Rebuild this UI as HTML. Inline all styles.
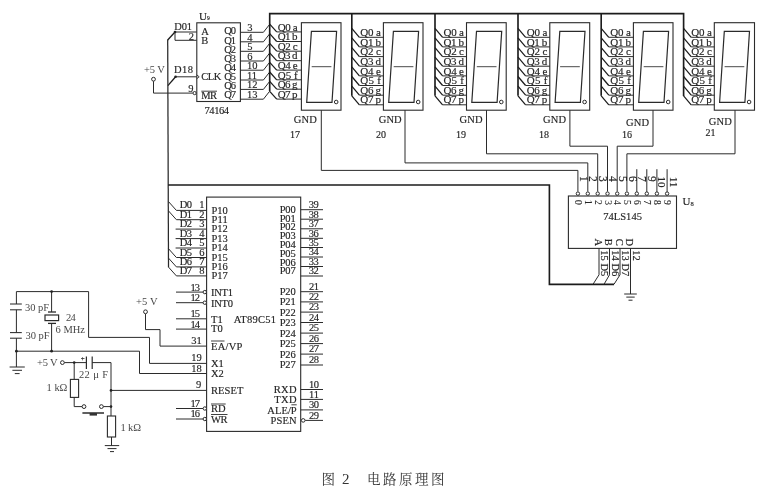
<!DOCTYPE html>
<html lang="zh"><head><meta charset="utf-8"><title>图 2 电路原理图</title>
<style>
html,body{margin:0;padding:0;background:#fff;}
body{width:766px;height:500px;overflow:hidden;}
svg{display:block;filter:blur(0.35px);}
svg text{font-family:"Liberation Serif","Noto Serif CJK SC",serif;fill:#262626;stroke:#262626;stroke-width:0.16;}
</style></head><body>
<svg width="766" height="500" viewBox="0 0 766 500">
<rect width="766" height="500" fill="#fff"/>
<rect x="196.8" y="22.8" width="43.6" height="78.7" fill="none" stroke="#2b2b2b" stroke-width="1.1"/>
<text x="199.0" y="19.7" font-size="11" >U<tspan font-size="5.5" dy="0.3">9</tspan></text>
<text x="174.2" y="30.2" font-size="10.5" textLength="17.8" >D01</text>
<text x="188.7" y="39.5" font-size="10.5" >2</text>
<text x="144.0" y="73.2" font-size="10.5" textLength="20.8" style="fill:#484848;stroke:none">+5 V</text>
<text x="174.0" y="73.2" font-size="10.5" textLength="19.0" >D18</text>
<text x="188.3" y="91.7" font-size="10.5" >9</text>
<text x="201.2" y="34.6" font-size="10.5" >A</text>
<text x="201.2" y="43.6" font-size="10.5" >B</text>
<text x="201.3" y="80.4" font-size="10.5" textLength="20.0" >CLK</text>
<text x="201.3" y="98.6" font-size="10.5" textLength="15.6" >MR</text>
<polyline points="201.3,91.2 217.0,91.2" fill="none" stroke="#2b2b2b" stroke-width="0.9" />
<text x="204.4" y="113.5" font-size="10.5" textLength="24.7" >74164</text>
<polyline points="175.0,32.0 196.7,32.0" fill="none" stroke="#2b2b2b" stroke-width="1.0" />
<polyline points="175.0,40.3 196.7,40.3" fill="none" stroke="#2b2b2b" stroke-width="1.0" />
<polyline points="175.0,32.0 175.0,40.3" fill="none" stroke="#2b2b2b" stroke-width="1.0" />
<polyline points="175.0,32.0 167.7,40.0" fill="none" stroke="#1c1c1c" stroke-width="1.3" />
<circle cx="175.0" cy="32.0" r="1.3" fill="#222"/>
<polyline points="175.6,76.8 196.7,76.8" fill="none" stroke="#2b2b2b" stroke-width="1.0" />
<polyline points="175.6,76.8 167.9,85.6" fill="none" stroke="#1c1c1c" stroke-width="1.3" />
<circle cx="175.6" cy="76.8" r="1.3" fill="#222"/>
<polyline points="196.7,74.8 199.2,76.8 196.7,78.8" fill="none" stroke="#2b2b2b" stroke-width="0.9" />
<polyline points="153.5,81.2 153.5,93.1 192.8,93.1" fill="none" stroke="#2b2b2b" stroke-width="1.0" />
<circle cx="153.5" cy="79.2" r="1.9" fill="#fff" stroke="#2b2b2b" stroke-width="1.0"/>
<circle cx="194.6" cy="93.1" r="1.6" fill="#fff" stroke="#2b2b2b" stroke-width="1.0"/>
<text x="224.3" y="34.4" font-size="10.5" textLength="11.7" >Q0</text>
<polyline points="240.4,32.3 263.4,32.3 269.7,24.3" fill="none" stroke="#2b2b2b" stroke-width="1.0" />
<text x="247.2" y="31.2" font-size="10.5" >3</text>
<text x="224.3" y="43.5" font-size="10.5" textLength="11.7" >Q1</text>
<polyline points="240.4,41.8 263.4,41.8 269.7,33.8" fill="none" stroke="#2b2b2b" stroke-width="1.0" />
<text x="247.2" y="40.7" font-size="10.5" >4</text>
<text x="224.3" y="52.5" font-size="10.5" textLength="11.7" >Q2</text>
<polyline points="240.4,51.3 263.4,51.3 269.7,43.3" fill="none" stroke="#2b2b2b" stroke-width="1.0" />
<text x="247.2" y="50.2" font-size="10.5" >5</text>
<text x="224.3" y="61.5" font-size="10.5" textLength="11.7" >Q3</text>
<polyline points="240.4,61.0 263.4,61.0 269.7,53.0" fill="none" stroke="#2b2b2b" stroke-width="1.0" />
<text x="247.2" y="59.9" font-size="10.5" >6</text>
<text x="224.3" y="70.6" font-size="10.5" textLength="11.7" >Q4</text>
<polyline points="240.4,70.2 263.4,70.2 269.7,62.2" fill="none" stroke="#2b2b2b" stroke-width="1.0" />
<text x="247.0" y="69.1" font-size="10.5" >10</text>
<text x="224.3" y="79.7" font-size="10.5" textLength="11.7" >Q5</text>
<polyline points="240.4,80.0 263.4,80.0 269.7,72.0" fill="none" stroke="#2b2b2b" stroke-width="1.0" />
<text x="247.0" y="78.9" font-size="10.5" >11</text>
<text x="224.3" y="88.7" font-size="10.5" textLength="11.7" >Q6</text>
<polyline points="240.4,89.4 263.4,89.4 269.7,81.4" fill="none" stroke="#2b2b2b" stroke-width="1.0" />
<text x="247.0" y="88.3" font-size="10.5" >12</text>
<text x="224.3" y="97.8" font-size="10.5" textLength="11.7" >Q7</text>
<polyline points="240.4,99.2 263.4,99.2 269.7,91.2" fill="none" stroke="#2b2b2b" stroke-width="1.0" />
<text x="247.0" y="98.1" font-size="10.5" >13</text>
<polyline points="269.7,91.0 269.7,13.6 683.6,13.6 683.6,96.0" fill="none" stroke="#1c1c1c" stroke-width="1.65" />
<polyline points="351.8,13.6 351.8,95.8" fill="none" stroke="#1c1c1c" stroke-width="1.65" />
<polyline points="435.0,13.6 435.0,95.8" fill="none" stroke="#1c1c1c" stroke-width="1.65" />
<polyline points="518.0,13.6 518.0,95.8" fill="none" stroke="#1c1c1c" stroke-width="1.65" />
<polyline points="601.2,13.6 601.2,95.8" fill="none" stroke="#1c1c1c" stroke-width="1.65" />
<polyline points="167.7,39.6 168.5,267.2" fill="none" stroke="#2a2a2a" stroke-width="1.25" />
<polyline points="168.1,185.0 549.4,185.0 549.4,284.3 614.0,284.3" fill="none" stroke="#1c1c1c" stroke-width="1.65" />
<rect x="301.4" y="22.7" width="39.6" height="87.5" fill="none" stroke="#2b2b2b" stroke-width="1.1"/>
<polygon points="311.4,31.4 336.6,31.4 332.0,102.4 306.7,102.4" fill="none" stroke="#2b2b2b" stroke-width="1.2"/>
<polyline points="311.7,66.7 331.4,66.7" fill="none" stroke="#4a4a4a" stroke-width="1.0" />
<circle cx="336.2" cy="102.0" r="1.8" fill="#fff" stroke="#2b2b2b" stroke-width="1.0"/>
<polyline points="269.7,24.1 276.7,31.9" fill="none" stroke="#1c1c1c" stroke-width="1.25" />
<polyline points="276.7,31.9 301.4,31.9" fill="none" stroke="#2b2b2b" stroke-width="1.0" />
<text x="277.8" y="30.6" font-size="11" textLength="19.8" >Q0 a</text>
<polyline points="269.7,33.7 276.7,41.5" fill="none" stroke="#1c1c1c" stroke-width="1.25" />
<polyline points="276.7,41.5 301.4,41.5" fill="none" stroke="#2b2b2b" stroke-width="1.0" />
<text x="277.8" y="40.2" font-size="11" textLength="19.8" >Q1 b</text>
<polyline points="269.7,43.4 276.7,51.2" fill="none" stroke="#1c1c1c" stroke-width="1.25" />
<polyline points="276.7,51.2 301.4,51.2" fill="none" stroke="#2b2b2b" stroke-width="1.0" />
<text x="277.8" y="49.9" font-size="11" textLength="19.8" >Q2 c</text>
<polyline points="269.7,52.9 276.7,60.7" fill="none" stroke="#1c1c1c" stroke-width="1.25" />
<polyline points="276.7,60.7 301.4,60.7" fill="none" stroke="#2b2b2b" stroke-width="1.0" />
<text x="277.8" y="59.4" font-size="11" textLength="19.8" >Q3 d</text>
<polyline points="269.7,62.3 276.7,70.1" fill="none" stroke="#1c1c1c" stroke-width="1.25" />
<polyline points="276.7,70.1 301.4,70.1" fill="none" stroke="#2b2b2b" stroke-width="1.0" />
<text x="277.8" y="68.8" font-size="11" textLength="19.8" >Q4 e</text>
<polyline points="269.7,72.0 276.7,79.8" fill="none" stroke="#1c1c1c" stroke-width="1.25" />
<polyline points="276.7,79.8 301.4,79.8" fill="none" stroke="#2b2b2b" stroke-width="1.0" />
<text x="277.8" y="78.5" font-size="11" textLength="19.8" >Q5 f</text>
<polyline points="269.7,81.4 276.7,89.2" fill="none" stroke="#1c1c1c" stroke-width="1.25" />
<polyline points="276.7,89.2 301.4,89.2" fill="none" stroke="#2b2b2b" stroke-width="1.0" />
<text x="277.8" y="87.9" font-size="11" textLength="19.8" >Q6 g</text>
<polyline points="269.7,91.3 276.7,99.1" fill="none" stroke="#1c1c1c" stroke-width="1.25" />
<polyline points="276.7,99.1 301.4,99.1" fill="none" stroke="#2b2b2b" stroke-width="1.0" />
<text x="277.8" y="97.8" font-size="11" textLength="19.8" >Q7 p</text>
<rect x="383.4" y="22.7" width="39.6" height="87.5" fill="none" stroke="#2b2b2b" stroke-width="1.1"/>
<polygon points="393.4,31.4 418.6,31.4 414.0,102.4 388.7,102.4" fill="none" stroke="#2b2b2b" stroke-width="1.2"/>
<polyline points="393.7,66.7 413.4,66.7" fill="none" stroke="#4a4a4a" stroke-width="1.0" />
<circle cx="418.2" cy="102.0" r="1.8" fill="#fff" stroke="#2b2b2b" stroke-width="1.0"/>
<polyline points="351.8,28.3 359.4,37.3" fill="none" stroke="#1c1c1c" stroke-width="1.25" />
<polyline points="359.4,37.3 383.4,37.3" fill="none" stroke="#2b2b2b" stroke-width="1.0" />
<text x="360.3" y="35.9" font-size="11" textLength="20.6" >Q0 a</text>
<polyline points="351.8,37.9 359.4,46.9" fill="none" stroke="#1c1c1c" stroke-width="1.25" />
<polyline points="359.4,46.9 383.4,46.9" fill="none" stroke="#2b2b2b" stroke-width="1.0" />
<text x="360.3" y="45.5" font-size="11" textLength="20.6" >Q1 b</text>
<polyline points="351.8,47.6 359.4,56.6" fill="none" stroke="#1c1c1c" stroke-width="1.25" />
<polyline points="359.4,56.6 383.4,56.6" fill="none" stroke="#2b2b2b" stroke-width="1.0" />
<text x="360.3" y="55.2" font-size="11" textLength="20.6" >Q2 c</text>
<polyline points="351.8,57.2 359.4,66.2" fill="none" stroke="#1c1c1c" stroke-width="1.25" />
<polyline points="359.4,66.2 383.4,66.2" fill="none" stroke="#2b2b2b" stroke-width="1.0" />
<text x="360.3" y="64.8" font-size="11" textLength="20.6" >Q3 d</text>
<polyline points="351.8,66.9 359.4,75.9" fill="none" stroke="#1c1c1c" stroke-width="1.25" />
<polyline points="359.4,75.9 383.4,75.9" fill="none" stroke="#2b2b2b" stroke-width="1.0" />
<text x="360.3" y="74.5" font-size="11" textLength="20.6" >Q4 e</text>
<polyline points="351.8,76.5 359.4,85.5" fill="none" stroke="#1c1c1c" stroke-width="1.25" />
<polyline points="359.4,85.5 383.4,85.5" fill="none" stroke="#2b2b2b" stroke-width="1.0" />
<text x="360.3" y="84.1" font-size="11" textLength="20.6" >Q5 f</text>
<polyline points="351.8,86.2 359.4,95.2" fill="none" stroke="#1c1c1c" stroke-width="1.25" />
<polyline points="359.4,95.2 383.4,95.2" fill="none" stroke="#2b2b2b" stroke-width="1.0" />
<text x="360.3" y="93.8" font-size="11" textLength="20.6" >Q6 g</text>
<polyline points="351.8,95.8 359.4,104.8" fill="none" stroke="#1c1c1c" stroke-width="1.25" />
<polyline points="359.4,104.8 383.4,104.8" fill="none" stroke="#2b2b2b" stroke-width="1.0" />
<text x="360.3" y="103.4" font-size="11" textLength="20.6" >Q7 p</text>
<rect x="466.5" y="22.7" width="39.7" height="87.5" fill="none" stroke="#2b2b2b" stroke-width="1.1"/>
<polygon points="476.5,31.4 501.7,31.4 497.1,102.4 471.8,102.4" fill="none" stroke="#2b2b2b" stroke-width="1.2"/>
<polyline points="476.8,66.7 496.5,66.7" fill="none" stroke="#4a4a4a" stroke-width="1.0" />
<circle cx="501.3" cy="102.0" r="1.8" fill="#fff" stroke="#2b2b2b" stroke-width="1.0"/>
<polyline points="435.0,28.3 442.6,37.3" fill="none" stroke="#1c1c1c" stroke-width="1.25" />
<polyline points="442.6,37.3 466.5,37.3" fill="none" stroke="#2b2b2b" stroke-width="1.0" />
<text x="443.4" y="35.9" font-size="11" textLength="20.6" >Q0 a</text>
<polyline points="435.0,37.9 442.6,46.9" fill="none" stroke="#1c1c1c" stroke-width="1.25" />
<polyline points="442.6,46.9 466.5,46.9" fill="none" stroke="#2b2b2b" stroke-width="1.0" />
<text x="443.4" y="45.5" font-size="11" textLength="20.6" >Q1 b</text>
<polyline points="435.0,47.6 442.6,56.6" fill="none" stroke="#1c1c1c" stroke-width="1.25" />
<polyline points="442.6,56.6 466.5,56.6" fill="none" stroke="#2b2b2b" stroke-width="1.0" />
<text x="443.4" y="55.2" font-size="11" textLength="20.6" >Q2 c</text>
<polyline points="435.0,57.2 442.6,66.2" fill="none" stroke="#1c1c1c" stroke-width="1.25" />
<polyline points="442.6,66.2 466.5,66.2" fill="none" stroke="#2b2b2b" stroke-width="1.0" />
<text x="443.4" y="64.8" font-size="11" textLength="20.6" >Q3 d</text>
<polyline points="435.0,66.9 442.6,75.9" fill="none" stroke="#1c1c1c" stroke-width="1.25" />
<polyline points="442.6,75.9 466.5,75.9" fill="none" stroke="#2b2b2b" stroke-width="1.0" />
<text x="443.4" y="74.5" font-size="11" textLength="20.6" >Q4 e</text>
<polyline points="435.0,76.5 442.6,85.5" fill="none" stroke="#1c1c1c" stroke-width="1.25" />
<polyline points="442.6,85.5 466.5,85.5" fill="none" stroke="#2b2b2b" stroke-width="1.0" />
<text x="443.4" y="84.1" font-size="11" textLength="20.6" >Q5 f</text>
<polyline points="435.0,86.2 442.6,95.2" fill="none" stroke="#1c1c1c" stroke-width="1.25" />
<polyline points="442.6,95.2 466.5,95.2" fill="none" stroke="#2b2b2b" stroke-width="1.0" />
<text x="443.4" y="93.8" font-size="11" textLength="20.6" >Q6 g</text>
<polyline points="435.0,95.8 442.6,104.8" fill="none" stroke="#1c1c1c" stroke-width="1.25" />
<polyline points="442.6,104.8 466.5,104.8" fill="none" stroke="#2b2b2b" stroke-width="1.0" />
<text x="443.4" y="103.4" font-size="11" textLength="20.6" >Q7 p</text>
<rect x="549.8" y="22.7" width="39.9" height="87.5" fill="none" stroke="#2b2b2b" stroke-width="1.1"/>
<polygon points="559.8,31.4 585.0,31.4 580.4,102.4 555.1,102.4" fill="none" stroke="#2b2b2b" stroke-width="1.2"/>
<polyline points="560.1,66.7 579.8,66.7" fill="none" stroke="#4a4a4a" stroke-width="1.0" />
<circle cx="584.6" cy="102.0" r="1.8" fill="#fff" stroke="#2b2b2b" stroke-width="1.0"/>
<polyline points="518.0,28.3 525.6,37.3" fill="none" stroke="#1c1c1c" stroke-width="1.25" />
<polyline points="525.6,37.3 549.8,37.3" fill="none" stroke="#2b2b2b" stroke-width="1.0" />
<text x="526.7" y="35.9" font-size="11" textLength="20.6" >Q0 a</text>
<polyline points="518.0,37.9 525.6,46.9" fill="none" stroke="#1c1c1c" stroke-width="1.25" />
<polyline points="525.6,46.9 549.8,46.9" fill="none" stroke="#2b2b2b" stroke-width="1.0" />
<text x="526.7" y="45.5" font-size="11" textLength="20.6" >Q1 b</text>
<polyline points="518.0,47.6 525.6,56.6" fill="none" stroke="#1c1c1c" stroke-width="1.25" />
<polyline points="525.6,56.6 549.8,56.6" fill="none" stroke="#2b2b2b" stroke-width="1.0" />
<text x="526.7" y="55.2" font-size="11" textLength="20.6" >Q2 c</text>
<polyline points="518.0,57.2 525.6,66.2" fill="none" stroke="#1c1c1c" stroke-width="1.25" />
<polyline points="525.6,66.2 549.8,66.2" fill="none" stroke="#2b2b2b" stroke-width="1.0" />
<text x="526.7" y="64.8" font-size="11" textLength="20.6" >Q3 d</text>
<polyline points="518.0,66.9 525.6,75.9" fill="none" stroke="#1c1c1c" stroke-width="1.25" />
<polyline points="525.6,75.9 549.8,75.9" fill="none" stroke="#2b2b2b" stroke-width="1.0" />
<text x="526.7" y="74.5" font-size="11" textLength="20.6" >Q4 e</text>
<polyline points="518.0,76.5 525.6,85.5" fill="none" stroke="#1c1c1c" stroke-width="1.25" />
<polyline points="525.6,85.5 549.8,85.5" fill="none" stroke="#2b2b2b" stroke-width="1.0" />
<text x="526.7" y="84.1" font-size="11" textLength="20.6" >Q5 f</text>
<polyline points="518.0,86.2 525.6,95.2" fill="none" stroke="#1c1c1c" stroke-width="1.25" />
<polyline points="525.6,95.2 549.8,95.2" fill="none" stroke="#2b2b2b" stroke-width="1.0" />
<text x="526.7" y="93.8" font-size="11" textLength="20.6" >Q6 g</text>
<polyline points="518.0,95.8 525.6,104.8" fill="none" stroke="#1c1c1c" stroke-width="1.25" />
<polyline points="525.6,104.8 549.8,104.8" fill="none" stroke="#2b2b2b" stroke-width="1.0" />
<text x="526.7" y="103.4" font-size="11" textLength="20.6" >Q7 p</text>
<rect x="633.4" y="22.7" width="39.6" height="87.5" fill="none" stroke="#2b2b2b" stroke-width="1.1"/>
<polygon points="643.4,31.4 668.6,31.4 664.0,102.4 638.7,102.4" fill="none" stroke="#2b2b2b" stroke-width="1.2"/>
<polyline points="643.7,66.7 663.4,66.7" fill="none" stroke="#4a4a4a" stroke-width="1.0" />
<circle cx="668.2" cy="102.0" r="1.8" fill="#fff" stroke="#2b2b2b" stroke-width="1.0"/>
<polyline points="601.2,28.3 608.8,37.3" fill="none" stroke="#1c1c1c" stroke-width="1.25" />
<polyline points="608.8,37.3 633.4,37.3" fill="none" stroke="#2b2b2b" stroke-width="1.0" />
<text x="610.3" y="35.9" font-size="11" textLength="20.6" >Q0 a</text>
<polyline points="601.2,37.9 608.8,46.9" fill="none" stroke="#1c1c1c" stroke-width="1.25" />
<polyline points="608.8,46.9 633.4,46.9" fill="none" stroke="#2b2b2b" stroke-width="1.0" />
<text x="610.3" y="45.5" font-size="11" textLength="20.6" >Q1 b</text>
<polyline points="601.2,47.6 608.8,56.6" fill="none" stroke="#1c1c1c" stroke-width="1.25" />
<polyline points="608.8,56.6 633.4,56.6" fill="none" stroke="#2b2b2b" stroke-width="1.0" />
<text x="610.3" y="55.2" font-size="11" textLength="20.6" >Q2 c</text>
<polyline points="601.2,57.2 608.8,66.2" fill="none" stroke="#1c1c1c" stroke-width="1.25" />
<polyline points="608.8,66.2 633.4,66.2" fill="none" stroke="#2b2b2b" stroke-width="1.0" />
<text x="610.3" y="64.8" font-size="11" textLength="20.6" >Q3 d</text>
<polyline points="601.2,66.9 608.8,75.9" fill="none" stroke="#1c1c1c" stroke-width="1.25" />
<polyline points="608.8,75.9 633.4,75.9" fill="none" stroke="#2b2b2b" stroke-width="1.0" />
<text x="610.3" y="74.5" font-size="11" textLength="20.6" >Q4 e</text>
<polyline points="601.2,76.5 608.8,85.5" fill="none" stroke="#1c1c1c" stroke-width="1.25" />
<polyline points="608.8,85.5 633.4,85.5" fill="none" stroke="#2b2b2b" stroke-width="1.0" />
<text x="610.3" y="84.1" font-size="11" textLength="20.6" >Q5 f</text>
<polyline points="601.2,86.2 608.8,95.2" fill="none" stroke="#1c1c1c" stroke-width="1.25" />
<polyline points="608.8,95.2 633.4,95.2" fill="none" stroke="#2b2b2b" stroke-width="1.0" />
<text x="610.3" y="93.8" font-size="11" textLength="20.6" >Q6 g</text>
<polyline points="601.2,95.8 608.8,104.8" fill="none" stroke="#1c1c1c" stroke-width="1.25" />
<polyline points="608.8,104.8 633.4,104.8" fill="none" stroke="#2b2b2b" stroke-width="1.0" />
<text x="610.3" y="103.4" font-size="11" textLength="20.6" >Q7 p</text>
<rect x="714.3" y="22.7" width="40.2" height="87.5" fill="none" stroke="#2b2b2b" stroke-width="1.1"/>
<polygon points="724.3,31.4 749.5,31.4 744.9,102.4 719.6,102.4" fill="none" stroke="#2b2b2b" stroke-width="1.2"/>
<polyline points="724.6,66.7 744.3,66.7" fill="none" stroke="#4a4a4a" stroke-width="1.0" />
<circle cx="749.1" cy="102.0" r="1.8" fill="#fff" stroke="#2b2b2b" stroke-width="1.0"/>
<polyline points="683.6,28.3 691.2,37.3" fill="none" stroke="#1c1c1c" stroke-width="1.25" />
<polyline points="691.2,37.3 714.3,37.3" fill="none" stroke="#2b2b2b" stroke-width="1.0" />
<text x="691.2" y="35.9" font-size="11" textLength="20.6" >Q0 a</text>
<polyline points="683.6,37.9 691.2,46.9" fill="none" stroke="#1c1c1c" stroke-width="1.25" />
<polyline points="691.2,46.9 714.3,46.9" fill="none" stroke="#2b2b2b" stroke-width="1.0" />
<text x="691.2" y="45.5" font-size="11" textLength="20.6" >Q1 b</text>
<polyline points="683.6,47.6 691.2,56.6" fill="none" stroke="#1c1c1c" stroke-width="1.25" />
<polyline points="691.2,56.6 714.3,56.6" fill="none" stroke="#2b2b2b" stroke-width="1.0" />
<text x="691.2" y="55.2" font-size="11" textLength="20.6" >Q2 c</text>
<polyline points="683.6,57.2 691.2,66.2" fill="none" stroke="#1c1c1c" stroke-width="1.25" />
<polyline points="691.2,66.2 714.3,66.2" fill="none" stroke="#2b2b2b" stroke-width="1.0" />
<text x="691.2" y="64.8" font-size="11" textLength="20.6" >Q3 d</text>
<polyline points="683.6,66.9 691.2,75.9" fill="none" stroke="#1c1c1c" stroke-width="1.25" />
<polyline points="691.2,75.9 714.3,75.9" fill="none" stroke="#2b2b2b" stroke-width="1.0" />
<text x="691.2" y="74.5" font-size="11" textLength="20.6" >Q4 e</text>
<polyline points="683.6,76.5 691.2,85.5" fill="none" stroke="#1c1c1c" stroke-width="1.25" />
<polyline points="691.2,85.5 714.3,85.5" fill="none" stroke="#2b2b2b" stroke-width="1.0" />
<text x="691.2" y="84.1" font-size="11" textLength="20.6" >Q5 f</text>
<polyline points="683.6,86.2 691.2,95.2" fill="none" stroke="#1c1c1c" stroke-width="1.25" />
<polyline points="691.2,95.2 714.3,95.2" fill="none" stroke="#2b2b2b" stroke-width="1.0" />
<text x="691.2" y="93.8" font-size="11" textLength="20.6" >Q6 g</text>
<polyline points="683.6,95.8 691.2,104.8" fill="none" stroke="#1c1c1c" stroke-width="1.25" />
<polyline points="691.2,104.8 714.3,104.8" fill="none" stroke="#2b2b2b" stroke-width="1.0" />
<text x="691.2" y="103.4" font-size="11" textLength="20.6" >Q7 p</text>
<polyline points="321.3,110.2 321.3,170.4 577.9,170.4 577.9,191.5" fill="none" stroke="#2b2b2b" stroke-width="1.0" />
<polyline points="405.0,110.2 405.0,162.9 587.8,162.9 587.8,191.5" fill="none" stroke="#2b2b2b" stroke-width="1.0" />
<polyline points="486.5,110.2 486.5,153.8 597.7,153.8 597.7,191.5" fill="none" stroke="#2b2b2b" stroke-width="1.0" />
<polyline points="569.9,110.2 569.9,146.2 607.5,146.2 607.5,191.5" fill="none" stroke="#2b2b2b" stroke-width="1.0" />
<polyline points="653.0,110.2 653.0,146.2 617.2,146.2 617.2,191.5" fill="none" stroke="#2b2b2b" stroke-width="1.0" />
<polyline points="735.0,110.2 735.0,153.8 626.9,153.8 626.9,191.5" fill="none" stroke="#2b2b2b" stroke-width="1.0" />
<text x="293.8" y="122.6" font-size="10.5" textLength="23.0" >GND</text>
<text x="290.0" y="137.6" font-size="10" >17</text>
<text x="378.7" y="123.0" font-size="10.5" textLength="23.0" >GND</text>
<text x="376.0" y="137.6" font-size="10" >20</text>
<text x="459.5" y="122.5" font-size="10.5" textLength="23.0" >GND</text>
<text x="456.0" y="137.8" font-size="10" >19</text>
<text x="543.0" y="122.6" font-size="10.5" textLength="23.0" >GND</text>
<text x="539.0" y="137.5" font-size="10" >18</text>
<text x="626.0" y="125.7" font-size="10.5" textLength="23.0" >GND</text>
<text x="622.0" y="137.5" font-size="10" >16</text>
<text x="708.8" y="125.0" font-size="10.5" textLength="23.0" >GND</text>
<text x="705.6" y="136.0" font-size="10" >21</text>
<rect x="568.4" y="196.0" width="108.1" height="52.4" fill="none" stroke="#2b2b2b" stroke-width="1.1"/>
<circle cx="577.9" cy="193.6" r="1.7" fill="#fff" stroke="#2b2b2b" stroke-width="1.0"/>
<text x="574.9" y="202.5" font-size="9.5" transform="rotate(90 574.9 202.5)" text-anchor="middle" style="stroke-width:0.08">0</text>
<circle cx="587.8" cy="193.6" r="1.7" fill="#fff" stroke="#2b2b2b" stroke-width="1.0"/>
<text x="584.8" y="202.5" font-size="9.5" transform="rotate(90 584.8 202.5)" text-anchor="middle" style="stroke-width:0.08">1</text>
<circle cx="597.7" cy="193.6" r="1.7" fill="#fff" stroke="#2b2b2b" stroke-width="1.0"/>
<text x="594.7" y="202.5" font-size="9.5" transform="rotate(90 594.7 202.5)" text-anchor="middle" style="stroke-width:0.08">2</text>
<circle cx="607.5" cy="193.6" r="1.7" fill="#fff" stroke="#2b2b2b" stroke-width="1.0"/>
<text x="604.5" y="202.5" font-size="9.5" transform="rotate(90 604.5 202.5)" text-anchor="middle" style="stroke-width:0.08">3</text>
<circle cx="617.2" cy="193.6" r="1.7" fill="#fff" stroke="#2b2b2b" stroke-width="1.0"/>
<text x="614.2" y="202.5" font-size="9.5" transform="rotate(90 614.2 202.5)" text-anchor="middle" style="stroke-width:0.08">4</text>
<circle cx="626.9" cy="193.6" r="1.7" fill="#fff" stroke="#2b2b2b" stroke-width="1.0"/>
<text x="623.9" y="202.5" font-size="9.5" transform="rotate(90 623.9 202.5)" text-anchor="middle" style="stroke-width:0.08">5</text>
<circle cx="636.8" cy="193.6" r="1.7" fill="#fff" stroke="#2b2b2b" stroke-width="1.0"/>
<polyline points="636.8,169.2 636.8,191.9" fill="none" stroke="#2b2b2b" stroke-width="1.0" />
<text x="633.8" y="202.5" font-size="9.5" transform="rotate(90 633.8 202.5)" text-anchor="middle" style="stroke-width:0.08">6</text>
<circle cx="646.8" cy="193.6" r="1.7" fill="#fff" stroke="#2b2b2b" stroke-width="1.0"/>
<polyline points="646.8,169.2 646.8,191.9" fill="none" stroke="#2b2b2b" stroke-width="1.0" />
<text x="643.8" y="202.5" font-size="9.5" transform="rotate(90 643.8 202.5)" text-anchor="middle" style="stroke-width:0.08">7</text>
<circle cx="656.9" cy="193.6" r="1.7" fill="#fff" stroke="#2b2b2b" stroke-width="1.0"/>
<polyline points="656.9,169.2 656.9,191.9" fill="none" stroke="#2b2b2b" stroke-width="1.0" />
<text x="653.9" y="202.5" font-size="9.5" transform="rotate(90 653.9 202.5)" text-anchor="middle" style="stroke-width:0.08">8</text>
<circle cx="667.1" cy="193.6" r="1.7" fill="#fff" stroke="#2b2b2b" stroke-width="1.0"/>
<polyline points="667.1,169.2 667.1,191.9" fill="none" stroke="#2b2b2b" stroke-width="1.0" />
<text x="664.1" y="202.5" font-size="9.5" transform="rotate(90 664.1 202.5)" text-anchor="middle" style="stroke-width:0.08">9</text>
<text x="579.5" y="178.8" font-size="11.5" transform="rotate(90 579.5 178.8)" text-anchor="middle" >1</text>
<text x="589.4" y="178.8" font-size="11.5" transform="rotate(90 589.4 178.8)" text-anchor="middle" >2</text>
<text x="599.3" y="178.8" font-size="11.5" transform="rotate(90 599.3 178.8)" text-anchor="middle" >3</text>
<text x="609.1" y="178.8" font-size="11.5" transform="rotate(90 609.1 178.8)" text-anchor="middle" >4</text>
<text x="618.8" y="178.8" font-size="11.5" transform="rotate(90 618.8 178.8)" text-anchor="middle" >5</text>
<text x="628.5" y="178.8" font-size="11.5" transform="rotate(90 628.5 178.8)" text-anchor="middle" >6</text>
<text x="638.4" y="178.8" font-size="11.5" transform="rotate(90 638.4 178.8)" text-anchor="middle" >7</text>
<text x="648.4" y="178.8" font-size="11.5" transform="rotate(90 648.4 178.8)" text-anchor="middle" >9</text>
<text x="658.4" y="182.0" font-size="11" transform="rotate(90 658.4 182.0)" text-anchor="middle" >10</text>
<text x="669.5" y="182.0" font-size="11" transform="rotate(90 669.5 182.0)" text-anchor="middle" >11</text>
<text x="603.3" y="219.8" font-size="10.5" textLength="38.6" >74LS145</text>
<text x="682.5" y="204.8" font-size="11" >U<tspan font-size="6.5" dy="1.5">8</tspan></text>
<text x="594.8" y="242.2" font-size="10.5" transform="rotate(90 594.8 242.2)" text-anchor="middle" >A</text>
<text x="605.3" y="242.2" font-size="10.5" transform="rotate(90 605.3 242.2)" text-anchor="middle" >B</text>
<text x="615.8" y="242.2" font-size="10.5" transform="rotate(90 615.8 242.2)" text-anchor="middle" >C</text>
<text x="626.3" y="242.2" font-size="10.5" transform="rotate(90 626.3 242.2)" text-anchor="middle" >D</text>
<polyline points="599.0,248.4 599.0,274.8 593.0,284.3" fill="none" stroke="#2b2b2b" stroke-width="1.0" />
<polyline points="609.5,248.4 609.5,274.8 604.0,284.3" fill="none" stroke="#2b2b2b" stroke-width="1.0" />
<polyline points="620.0,248.4 620.0,274.8 614.0,284.3" fill="none" stroke="#2b2b2b" stroke-width="1.0" />
<polyline points="630.5,248.4 630.5,294.0" fill="none" stroke="#2b2b2b" stroke-width="1.0" />
<polyline points="624.2,294.0 636.8,294.0" fill="none" stroke="#2b2b2b" stroke-width="1.0" />
<polyline points="626.3,297.1 634.7,297.1" fill="none" stroke="#2b2b2b" stroke-width="1.0" />
<polyline points="628.5,300.2 632.5,300.2" fill="none" stroke="#2b2b2b" stroke-width="1.0" />
<text x="601.2" y="250.3" font-size="10.5" transform="rotate(90 601.2 250.3)" >15 D5</text>
<text x="611.7" y="250.3" font-size="10.5" transform="rotate(90 611.7 250.3)" >14 D6</text>
<text x="622.2" y="250.3" font-size="10.5" transform="rotate(90 622.2 250.3)" >13 D7</text>
<text x="632.7" y="250.3" font-size="10.5" transform="rotate(90 632.7 250.3)" >12</text>
<rect x="206.6" y="197.1" width="94.1" height="234.3" fill="none" stroke="#2b2b2b" stroke-width="1.1"/>
<polyline points="168.5,201.6 176.4,210.4 206.5,210.4" fill="none" stroke="#2b2b2b" stroke-width="1.0" />
<text x="179.7" y="208.4" font-size="10.5" textLength="12.3" >D0</text>
<text x="199.2" y="208.4" font-size="10.5" >1</text>
<text x="211.4" y="213.6" font-size="10.5" textLength="16.4" >P10</text>
<polyline points="168.5,210.9 176.4,219.7 206.5,219.7" fill="none" stroke="#2b2b2b" stroke-width="1.0" />
<text x="179.7" y="217.7" font-size="10.5" textLength="12.3" >D1</text>
<text x="199.2" y="217.7" font-size="10.5" >2</text>
<text x="211.4" y="223.0" font-size="10.5" textLength="16.4" >P11</text>
<polyline points="175.6,229.1 206.5,229.1" fill="none" stroke="#2b2b2b" stroke-width="1.0" />
<text x="179.7" y="227.1" font-size="10.5" textLength="12.3" >D2</text>
<text x="199.2" y="227.1" font-size="10.5" >3</text>
<text x="211.4" y="232.4" font-size="10.5" textLength="16.4" >P12</text>
<polyline points="175.6,238.6 206.5,238.6" fill="none" stroke="#2b2b2b" stroke-width="1.0" />
<text x="179.7" y="236.6" font-size="10.5" textLength="12.3" >D3</text>
<text x="199.2" y="236.6" font-size="10.5" >4</text>
<text x="211.4" y="241.8" font-size="10.5" textLength="16.4" >P13</text>
<polyline points="175.6,248.0 206.5,248.0" fill="none" stroke="#2b2b2b" stroke-width="1.0" />
<text x="179.7" y="246.0" font-size="10.5" textLength="12.3" >D4</text>
<text x="199.2" y="246.0" font-size="10.5" >5</text>
<text x="211.4" y="251.2" font-size="10.5" textLength="16.4" >P14</text>
<polyline points="168.5,248.7 176.4,257.5 206.5,257.5" fill="none" stroke="#2b2b2b" stroke-width="1.0" />
<text x="179.7" y="255.5" font-size="10.5" textLength="12.3" >D5</text>
<text x="199.2" y="255.5" font-size="10.5" >6</text>
<text x="211.4" y="260.6" font-size="10.5" textLength="16.4" >P15</text>
<polyline points="168.5,258.1 176.4,266.9 206.5,266.9" fill="none" stroke="#2b2b2b" stroke-width="1.0" />
<text x="179.7" y="264.9" font-size="10.5" textLength="12.3" >D6</text>
<text x="199.2" y="264.9" font-size="10.5" >7</text>
<text x="211.4" y="270.0" font-size="10.5" textLength="16.4" >P16</text>
<polyline points="168.5,267.1 176.4,275.9 206.5,275.9" fill="none" stroke="#2b2b2b" stroke-width="1.0" />
<text x="179.7" y="273.9" font-size="10.5" textLength="12.3" >D7</text>
<text x="199.2" y="273.9" font-size="10.5" >8</text>
<text x="211.4" y="279.4" font-size="10.5" textLength="16.4" >P17</text>
<polyline points="300.7,209.7 323.0,209.7" fill="none" stroke="#2b2b2b" stroke-width="1.0" />
<text x="308.8" y="208.1" font-size="10.5" textLength="10.0" >39</text>
<text x="279.7" y="212.7" font-size="10.5" textLength="16.0" >P00</text>
<polyline points="300.7,219.2 323.0,219.2" fill="none" stroke="#2b2b2b" stroke-width="1.0" />
<text x="308.8" y="217.6" font-size="10.5" textLength="10.0" >38</text>
<text x="279.7" y="221.5" font-size="10.5" textLength="16.0" >P01</text>
<polyline points="300.7,228.8 323.0,228.8" fill="none" stroke="#2b2b2b" stroke-width="1.0" />
<text x="308.8" y="227.2" font-size="10.5" textLength="10.0" >37</text>
<text x="279.7" y="230.3" font-size="10.5" textLength="16.0" >P02</text>
<polyline points="300.7,238.3 323.0,238.3" fill="none" stroke="#2b2b2b" stroke-width="1.0" />
<text x="308.8" y="236.7" font-size="10.5" textLength="10.0" >36</text>
<text x="279.7" y="239.1" font-size="10.5" textLength="16.0" >P03</text>
<polyline points="300.7,247.5 323.0,247.5" fill="none" stroke="#2b2b2b" stroke-width="1.0" />
<text x="308.8" y="245.9" font-size="10.5" textLength="10.0" >35</text>
<text x="279.7" y="247.9" font-size="10.5" textLength="16.0" >P04</text>
<polyline points="300.7,257.0 323.0,257.0" fill="none" stroke="#2b2b2b" stroke-width="1.0" />
<text x="308.8" y="255.4" font-size="10.5" textLength="10.0" >34</text>
<text x="279.7" y="256.7" font-size="10.5" textLength="16.0" >P05</text>
<polyline points="300.7,266.5 323.0,266.5" fill="none" stroke="#2b2b2b" stroke-width="1.0" />
<text x="308.8" y="264.9" font-size="10.5" textLength="10.0" >33</text>
<text x="279.7" y="265.5" font-size="10.5" textLength="16.0" >P06</text>
<polyline points="300.7,276.0 323.0,276.0" fill="none" stroke="#2b2b2b" stroke-width="1.0" />
<text x="308.8" y="274.4" font-size="10.5" textLength="10.0" >32</text>
<text x="279.7" y="274.3" font-size="10.5" textLength="16.0" >P07</text>
<polyline points="176.0,292.1 203.3,292.1" fill="none" stroke="#2b2b2b" stroke-width="1.0" />
<circle cx="204.8" cy="292.1" r="1.7" fill="#fff" stroke="#2b2b2b" stroke-width="1.0"/>
<text x="190.4" y="290.5" font-size="10.5" textLength="9.6" >13</text>
<polyline points="176.0,302.7 203.3,302.7" fill="none" stroke="#2b2b2b" stroke-width="1.0" />
<circle cx="204.8" cy="302.7" r="1.7" fill="#fff" stroke="#2b2b2b" stroke-width="1.0"/>
<text x="190.4" y="301.1" font-size="10.5" textLength="9.6" >12</text>
<polyline points="176.0,318.8 206.5,318.8" fill="none" stroke="#2b2b2b" stroke-width="1.0" />
<text x="190.4" y="317.2" font-size="10.5" textLength="9.6" >15</text>
<polyline points="176.0,329.1 206.5,329.1" fill="none" stroke="#2b2b2b" stroke-width="1.0" />
<text x="190.4" y="327.5" font-size="10.5" textLength="9.6" >14</text>
<polyline points="176.0,408.5 203.3,408.5" fill="none" stroke="#2b2b2b" stroke-width="1.0" />
<circle cx="204.8" cy="408.5" r="1.7" fill="#fff" stroke="#2b2b2b" stroke-width="1.0"/>
<text x="190.4" y="406.9" font-size="10.5" textLength="9.6" >17</text>
<polyline points="176.0,419.0 203.3,419.0" fill="none" stroke="#2b2b2b" stroke-width="1.0" />
<circle cx="204.8" cy="419.0" r="1.7" fill="#fff" stroke="#2b2b2b" stroke-width="1.0"/>
<text x="190.4" y="417.4" font-size="10.5" textLength="9.6" >16</text>
<text x="191.2" y="344.4" font-size="10.5" >31</text>
<text x="191.2" y="361.3" font-size="10.5" >19</text>
<text x="191.2" y="371.6" font-size="10.5" >18</text>
<text x="196.0" y="388.2" font-size="10.5" >9</text>
<text x="211.0" y="295.8" font-size="10.5" textLength="21.9" >INT1</text>
<text x="211.0" y="306.6" font-size="10.5" textLength="21.9" >INT0</text>
<text x="211.0" y="322.5" font-size="10.5" >T1</text>
<text x="211.0" y="332.1" font-size="10.5" >T0</text>
<text x="233.7" y="323.0" font-size="10.5" textLength="42.3" >AT89C51</text>
<text x="211.0" y="350.2" font-size="10.5" textLength="31.3" >EA/VP</text>
<polyline points="211.0,341.0 224.5,341.0" fill="none" stroke="#2b2b2b" stroke-width="0.9" />
<text x="211.0" y="367.0" font-size="10.5" >X1</text>
<text x="211.0" y="376.7" font-size="10.5" >X2</text>
<text x="211.0" y="394.2" font-size="10.5" textLength="32.3" >RESET</text>
<text x="211.0" y="412.1" font-size="10.5" textLength="14.7" >RD</text>
<polyline points="211.0,404.0 225.7,404.0" fill="none" stroke="#2b2b2b" stroke-width="0.9" />
<text x="211.0" y="422.5" font-size="10.5" textLength="16.5" >WR</text>
<polyline points="211.0,414.5 227.5,414.5" fill="none" stroke="#2b2b2b" stroke-width="0.9" />
<polyline points="300.7,291.7 323.0,291.7" fill="none" stroke="#2b2b2b" stroke-width="1.0" />
<text x="308.9" y="289.9" font-size="10.5" textLength="10.0" >21</text>
<text x="279.7" y="295.4" font-size="10.5" textLength="16.0" >P20</text>
<polyline points="300.7,301.9 323.0,301.9" fill="none" stroke="#2b2b2b" stroke-width="1.0" />
<text x="308.9" y="300.1" font-size="10.5" textLength="10.0" >22</text>
<text x="279.7" y="305.2" font-size="10.5" textLength="16.0" >P21</text>
<polyline points="300.7,312.1 323.0,312.1" fill="none" stroke="#2b2b2b" stroke-width="1.0" />
<text x="308.9" y="310.3" font-size="10.5" textLength="10.0" >23</text>
<text x="279.7" y="315.6" font-size="10.5" textLength="16.0" >P22</text>
<polyline points="300.7,322.5 323.0,322.5" fill="none" stroke="#2b2b2b" stroke-width="1.0" />
<text x="308.9" y="320.7" font-size="10.5" textLength="10.0" >24</text>
<text x="279.7" y="326.1" font-size="10.5" textLength="16.0" >P23</text>
<polyline points="300.7,333.1 323.0,333.1" fill="none" stroke="#2b2b2b" stroke-width="1.0" />
<text x="308.9" y="331.3" font-size="10.5" textLength="10.0" >25</text>
<text x="279.7" y="336.7" font-size="10.5" textLength="16.0" >P24</text>
<polyline points="300.7,343.6 323.0,343.6" fill="none" stroke="#2b2b2b" stroke-width="1.0" />
<text x="308.9" y="341.8" font-size="10.5" textLength="10.0" >26</text>
<text x="279.7" y="347.3" font-size="10.5" textLength="16.0" >P25</text>
<polyline points="300.7,354.1 323.0,354.1" fill="none" stroke="#2b2b2b" stroke-width="1.0" />
<text x="308.9" y="352.3" font-size="10.5" textLength="10.0" >27</text>
<text x="279.7" y="357.9" font-size="10.5" textLength="16.0" >P26</text>
<polyline points="300.7,365.0 323.0,365.0" fill="none" stroke="#2b2b2b" stroke-width="1.0" />
<text x="308.9" y="363.2" font-size="10.5" textLength="10.0" >28</text>
<text x="279.7" y="368.3" font-size="10.5" textLength="16.0" >P27</text>
<polyline points="300.7,389.5 323.0,389.5" fill="none" stroke="#2b2b2b" stroke-width="1.0" />
<text x="308.9" y="387.7" font-size="10.5" textLength="10.0" >10</text>
<text x="273.7" y="393.0" font-size="10.5" textLength="23.0" >RXD</text>
<polyline points="300.7,399.4 323.0,399.4" fill="none" stroke="#2b2b2b" stroke-width="1.0" />
<text x="308.9" y="397.6" font-size="10.5" textLength="10.0" >11</text>
<text x="274.3" y="403.0" font-size="10.5" textLength="22.4" >TXD</text>
<polyline points="300.7,409.9 323.0,409.9" fill="none" stroke="#2b2b2b" stroke-width="1.0" />
<text x="308.9" y="408.1" font-size="10.5" textLength="10.0" >30</text>
<text x="267.3" y="413.7" font-size="10.5" textLength="29.4" >ALE/P</text>
<polyline points="291.4,404.8 296.7,404.8" fill="none" stroke="#2b2b2b" stroke-width="0.9" />
<polyline points="305.2,420.4 323.0,420.4" fill="none" stroke="#2b2b2b" stroke-width="1.0" />
<circle cx="303.2" cy="420.4" r="1.8" fill="#fff" stroke="#2b2b2b" stroke-width="1.0"/>
<text x="308.9" y="418.6" font-size="10.5" textLength="10.0" >29</text>
<text x="270.5" y="424.0" font-size="10.5" textLength="26.2" >PSEN</text>
<text x="136.0" y="305.2" font-size="10.5" textLength="21.5" style="fill:#484848;stroke:none">+5 V</text>
<polyline points="145.5,313.8 145.5,329.6 160.0,329.6 160.0,346.1 206.5,346.1" fill="none" stroke="#2b2b2b" stroke-width="1.0" />
<circle cx="145.5" cy="311.8" r="1.9" fill="#fff" stroke="#2b2b2b" stroke-width="1.0"/>
<polyline points="16.4,291.6 88.6,291.6 88.6,337.4 149.5,337.4 149.5,363.4 206.5,363.4" fill="none" stroke="#2b2b2b" stroke-width="1.0" />
<polyline points="16.4,351.2 139.5,351.2 139.5,373.5 206.5,373.5" fill="none" stroke="#2b2b2b" stroke-width="1.0" />
<polyline points="16.4,291.6 16.4,304.0" fill="none" stroke="#2b2b2b" stroke-width="1.0" />
<polyline points="16.4,309.8 16.4,332.6" fill="none" stroke="#2b2b2b" stroke-width="1.0" />
<polyline points="16.4,338.2 16.4,367.0" fill="none" stroke="#2b2b2b" stroke-width="1.0" />
<polyline points="10.0,304.0 21.8,304.0" fill="none" stroke="#2b2b2b" stroke-width="1.05" />
<polyline points="10.0,309.8 21.8,309.8" fill="none" stroke="#2b2b2b" stroke-width="1.05" />
<polyline points="10.0,332.6 21.8,332.6" fill="none" stroke="#2b2b2b" stroke-width="1.05" />
<polyline points="10.0,338.2 21.8,338.2" fill="none" stroke="#2b2b2b" stroke-width="1.05" />
<polyline points="9.6,367.0 24.8,367.0" fill="none" stroke="#2b2b2b" stroke-width="1.0" />
<polyline points="12.4,370.3 22.0,370.3" fill="none" stroke="#2b2b2b" stroke-width="1.0" />
<polyline points="14.8,373.6 19.6,373.6" fill="none" stroke="#2b2b2b" stroke-width="1.0" />
<polyline points="51.6,291.6 51.6,312.0" fill="none" stroke="#2b2b2b" stroke-width="1.0" />
<polyline points="48.0,312.0 56.0,312.0" fill="none" stroke="#2b2b2b" stroke-width="1.3" />
<rect x="45.0" y="315.0" width="13.6" height="5.6" fill="none" stroke="#2b2b2b" stroke-width="1.2"/>
<polyline points="48.0,323.4 56.0,323.4" fill="none" stroke="#2b2b2b" stroke-width="1.3" />
<polyline points="51.6,323.4 51.6,351.2" fill="none" stroke="#2b2b2b" stroke-width="1.0" />
<circle cx="51.6" cy="291.6" r="1.4" fill="#222"/>
<circle cx="16.4" cy="351.2" r="1.4" fill="#222"/>
<circle cx="51.6" cy="351.2" r="1.4" fill="#222"/>
<text x="25.0" y="311.0" font-size="10.5" textLength="24.0" style="fill:#484848;stroke:none">30 pF</text>
<text x="25.6" y="338.8" font-size="10.5" textLength="24.0" style="fill:#484848;stroke:none">30 pF</text>
<text x="66.0" y="321.4" font-size="10.5" textLength="9.8" style="fill:#484848;stroke:none">24</text>
<text x="55.6" y="332.6" font-size="10.5" textLength="29.4" style="fill:#484848;stroke:none">6 MHz</text>
<text x="37.0" y="365.6" font-size="10.5" textLength="20.5" style="fill:#484848;stroke:none">+5 V</text>
<circle cx="62.4" cy="362.6" r="1.9" fill="#fff" stroke="#2b2b2b" stroke-width="1.0"/>
<polyline points="64.4,362.6 86.4,362.6" fill="none" stroke="#2b2b2b" stroke-width="1.0" />
<polyline points="86.4,356.4 86.4,369.0" fill="none" stroke="#2b2b2b" stroke-width="1.2" />
<polyline points="92.2,356.4 92.2,369.0" fill="none" stroke="#2b2b2b" stroke-width="1.2" />
<polyline points="92.2,362.6 111.0,362.6 111.0,416.0" fill="none" stroke="#2b2b2b" stroke-width="1.0" />
<polyline points="111.0,390.4 206.5,390.4" fill="none" stroke="#2b2b2b" stroke-width="1.0" />
<circle cx="74.2" cy="362.6" r="1.3" fill="#222"/>
<circle cx="111.0" cy="390.4" r="1.3" fill="#222"/>
<circle cx="111.0" cy="406.6" r="1.3" fill="#222"/>
<text x="80.8" y="361.2" font-size="7" >+</text>
<polyline points="74.2,362.6 74.2,379.4" fill="none" stroke="#2b2b2b" stroke-width="1.0" />
<rect x="70.4" y="379.4" width="8.2" height="18.0" fill="none" stroke="#2b2b2b" stroke-width="1.1"/>
<polyline points="74.2,397.4 74.2,406.6 82.0,406.6" fill="none" stroke="#2b2b2b" stroke-width="1.0" />
<circle cx="84.0" cy="406.6" r="1.9" fill="#fff" stroke="#2b2b2b" stroke-width="1.0"/>
<circle cx="101.4" cy="406.6" r="1.9" fill="#fff" stroke="#2b2b2b" stroke-width="1.0"/>
<polyline points="103.4,406.6 111.0,406.6" fill="none" stroke="#2b2b2b" stroke-width="1.0" />
<polyline points="82.4,413.0 104.0,413.0" fill="none" stroke="#1c1c1c" stroke-width="1.4" />
<rect x="89.6" y="413" width="7.4" height="2.6" fill="#333"/>
<rect x="107.4" y="416.0" width="8.2" height="21.0" fill="none" stroke="#2b2b2b" stroke-width="1.1"/>
<polyline points="111.5,437.0 111.5,445.6" fill="none" stroke="#2b2b2b" stroke-width="1.0" />
<polyline points="104.8,445.6 119.2,445.6" fill="none" stroke="#2b2b2b" stroke-width="1.0" />
<polyline points="107.5,448.6 116.5,448.6" fill="none" stroke="#2b2b2b" stroke-width="1.0" />
<polyline points="110.0,451.6 114.0,451.6" fill="none" stroke="#2b2b2b" stroke-width="1.0" />
<text x="79.0" y="378.0" font-size="10.5" textLength="29.0" style="fill:#484848;stroke:none">22  μ F</text>
<text x="46.6" y="391.4" font-size="10.5" textLength="20.8" style="fill:#484848;stroke:none">1 kΩ</text>
<text x="120.6" y="430.6" font-size="10.5" textLength="20.4" style="fill:#484848;stroke:none">1 kΩ</text>
<text x="321.5" y="484" font-size="13.5" font-family="'Liberation Serif','Noto Serif CJK SC',serif" style="fill:#333;stroke:none">图</text>
<text x="342" y="484.3" font-size="15" style="fill:#333;stroke:none" font-family="'Liberation Serif',serif">2</text>
<text x="367" y="484" font-size="13.5" textLength="77.5" font-family="'Liberation Serif','Noto Serif CJK SC',serif" style="fill:#333;stroke:none">电路原理图</text>
</svg>
</body></html>
